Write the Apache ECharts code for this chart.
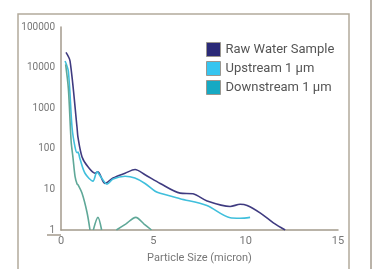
<!DOCTYPE html>
<html>
<head>
<meta charset="utf-8">
<title>Particle Size</title>
<script src="https://cdn.jsdelivr.net/npm/echarts@6/dist/echarts.min.js"></script>
<style>
  html, body { margin: 0; padding: 0; background: #fff; }
  #main { width: 373px; height: 269px; }
</style>
</head>
<body>
<div id="main"></div>
<script>
// particle size (micron) / counts
var rawX = [0.27, 0.49, 0.87, 0.92, 1.14, 1.46, 1.84, 2.0, 2.38, 2.82, 3.47, 4.01, 4.55, 5.37, 6.45, 7.15, 7.91, 9.16, 9.7, 10.08, 10.8, 11.5, 12.14];
var rawY = [23700, 14500, 330, 190, 63, 36, 25, 27, 14, 19, 25, 31, 23, 14, 8.1, 7.8, 5.2, 3.8, 4.3, 4, 2.6, 1.5, 1];

var upX = [0.22, 0.4, 0.6, 0.76, 0.87, 0.92, 1.03, 1.3, 1.73, 1.95, 2.17, 2.49, 2.82, 3.47, 4.0, 4.55, 5.1, 5.37, 6.45, 7.9, 9.16, 9.7, 10.24];
var upY = [14500, 8000, 330, 110, 80, 83, 56, 25, 16, 27, 20, 13.5, 18, 21, 19, 14, 9, 8, 5.9, 4, 2.0, 1.95, 2.05];

var downX = [0.25, 0.4, 0.55, 0.65, 0.76, 0.87, 0.92, 1.14, 1.41, 1.57, 1.6, 1.75, 2.0, 2.2, 2.5, 3.0, 3.5, 4.05, 4.5, 4.9];
var downY = [12000, 3000, 150, 60, 21, 13.5, 13, 8, 2.7, 1, null, 1, 2.05, 1, null, 1, 1.4, 2.05, 1.4, 1];

var names = ['Raw Water Sample', 'Upstream 1 \u00b5m', 'Downstream 1 \u00b5m'];
var legendColors = ['#2b2a78', '#35c5f0', '#16a9c3'];
var lineColors = ['#3f3b80', '#40bfdc', '#5fa898'];

function pairs(xs, ys) {
    var out = [];
    for (var i = 0; i < xs.length; i++) {
        out.push([xs[i], ys[i]]);
    }
    return out;
}

var seriesData = [pairs(rawX, rawY), pairs(upX, upY), pairs(downX, downY)];

var myChart = echarts.init(document.getElementById('main'));

var option = {
    animation: false,
    textStyle: { fontFamily: 'Roboto, sans-serif' },
    grid: { left: 61, right: 35, top: 27, bottom: 34 },
    legend: {
        left: 201,
        top: 37,
        orient: 'vertical',
        icon: 'rect',
        itemWidth: 14,
        itemHeight: 14,
        itemGap: 4,
        itemStyle: { borderColor: '#9a968f', borderWidth: 1 },
        textStyle: { fontSize: 13, color: '#555' },
        data: names
    },
    graphic: [
        { type: 'rect', shape: { x: 18, y: 14, width: 331, height: 300 }, style: { fill: 'none', stroke: '#b3aa9c', lineWidth: 1.5 } },
        { type: 'line', shape: { x1: 371, y1: 0, x2: 371, y2: 269 }, style: { stroke: '#a39a8c', lineWidth: 1.5 } },
        { type: 'line', shape: { x1: 47, y1: 235, x2: 61, y2: 235 }, style: { stroke: '#a39a8c', lineWidth: 1.5 } }
    ],
    xAxis: {
        type: 'value',
        min: 0,
        max: 15,
        interval: 5,
        name: 'Particle Size (micron)',
        nameLocation: 'middle',
        nameGap: 23,
        nameTextStyle: { fontSize: 11, color: '#777' },
        axisLine: { lineStyle: { color: '#a39a8c', width: 1.5 } },
        axisTick: { show: false },
        axisLabel: { fontSize: 11, color: '#777', margin: 6 },
        splitLine: { show: false }
    },
    yAxis: {
        type: 'log',
        logBase: 10,
        min: 1,
        max: 100000,
        axisLine: { show: true, lineStyle: { color: '#a39a8c', width: 1.5 } },
        axisTick: { show: false },
        axisLabel: {
            fontSize: 10,
            color: '#777',
            margin: 6,
            formatter: function (v) { return String(Math.round(v)); }
        },
        splitLine: { show: false }
    },
    series: function () {
        var serie = [];
        for (var i = 0; i < names.length; i++) {
            serie.push({
                name: names[i],
                type: 'line',
                showSymbol: false,
                smooth: 0.3,
                connectNulls: false,
                itemStyle: { color: legendColors[i] },
                lineStyle: { color: lineColors[i], width: 1.6 },
                data: seriesData[i]
            });
        }
        return serie;
    }()
};
myChart.setOption(option);
</script>
</body>
</html>
